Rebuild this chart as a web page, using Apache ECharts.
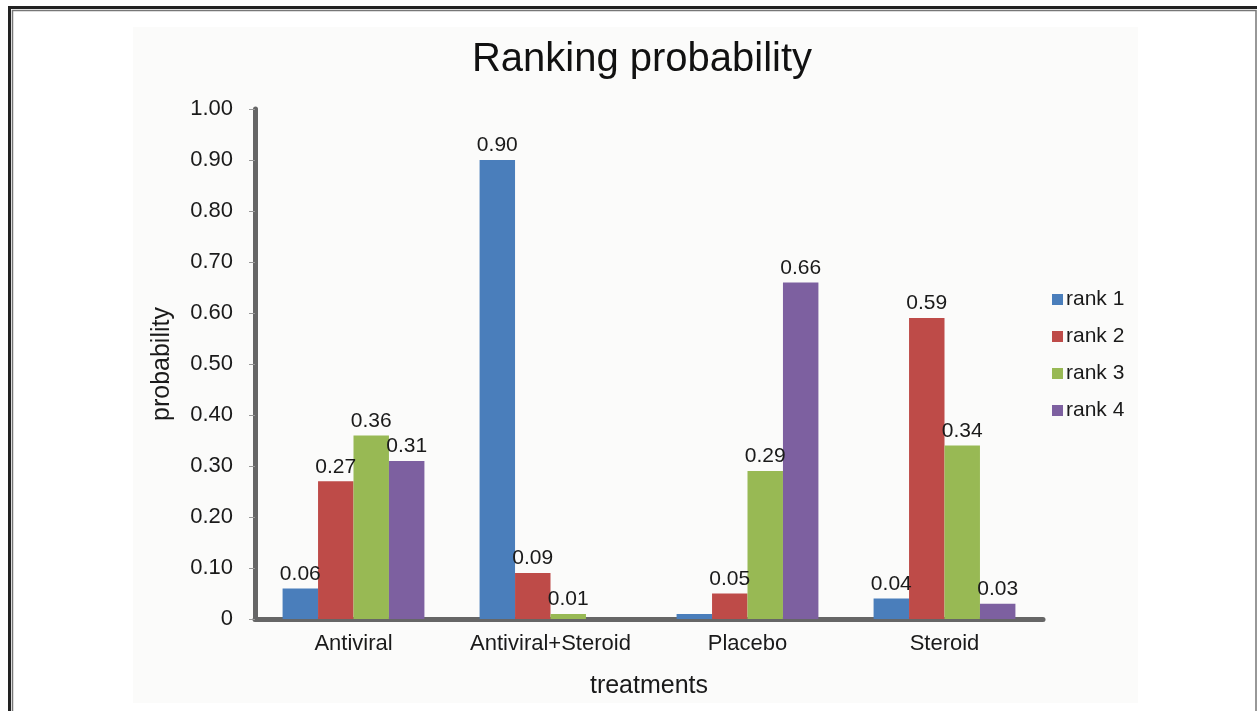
<!DOCTYPE html>
<html>
<head>
<meta charset="utf-8">
<script src="https://cdn.jsdelivr.net/npm/echarts@6/dist/echarts.min.js"></script>
<style>
html,body{margin:0;padding:0;background:#fff;}
#c{width:1257px;height:711px;}
</style>
</head>
<body>
<div id="c"></div>
<script>
const categories = ['Antiviral', 'Antiviral+Steroid', 'Placebo', 'Steroid'];
const seriesNames = ['rank 1', 'rank 2', 'rank 3', 'rank 4'];
const rank1 = [0.06, 0.90, 0.01, 0.04];
const rank2 = [0.27, 0.09, 0.05, 0.59];
const rank3 = [0.36, 0.01, 0.29, 0.34];
const rank4 = [0.31, 0, 0.66, 0.03];
// labels not drawn in the reference: [seriesIndex, categoryIndex]
const hiddenLabels = [[0, 2], [3, 1]];
const colors = ['#4a7ebb', '#be4b48', '#98b954', '#7d60a0'];

const allValues = [rank1, rank2, rank3, rank4];
const font = 'Liberation Sans, Arial, sans-serif';
const textColor = '#1a1a1a';

const series = allValues.map((vals, si) => ({
  name: seriesNames[si],
  type: 'bar',
  barGap: '0%',
  barCategoryGap: '28%',
  itemStyle: { color: colors[si] },
  label: {
    show: true, position: 'top', distance: 4,
    fontFamily: font, fontSize: 21, color: textColor,
    formatter: p => p.value.toFixed(2)
  },
  data: vals.map((v, ci) => {
    const hide = hiddenLabels.some(h => h[0] === si && h[1] === ci);
    return hide ? { value: v, label: { show: false } } : v;
  })
}));

const chart = echarts.init(document.getElementById('c'));
chart.setOption({
  backgroundColor: '#ffffff',
  animation: false,
  graphic: [
    { type: 'rect', z: -10, shape: { x: 133, y: 27, width: 1005, height: 676 }, style: { fill: '#fbfbfa' } },
    { type: 'rect', z: -5, shape: { x: 9.5, y: 7.5, width: 1260, height: 720 }, style: { fill: 'none', stroke: '#222', lineWidth: 3 } },
    { type: 'rect', z: -5, shape: { x: 12.5, y: 10.5, width: 1243.5, height: 720 }, style: { fill: 'none', stroke: '#777', lineWidth: 1.5 } }
  ],
  title: {
    text: 'Ranking probability',
    left: 642, top: 40, textAlign: 'center', padding: 0,
    textStyle: { fontFamily: font, fontSize: 40, fontWeight: 'normal', color: '#111' }
  },
  legend: {
    orient: 'vertical', left: 1047, top: 284, itemGap: 16,
    itemWidth: 11, itemHeight: 11, icon: 'rect',
    textStyle: { fontFamily: font, fontSize: 21, color: textColor, padding: [0, 0, 0, -2] },
    data: seriesNames
  },
  grid: { left: 255, right: 214, top: 109, bottom: 92, containLabel: false },
  xAxis: {
    type: 'category', data: categories,
    name: 'treatments', nameLocation: 'middle', nameGap: 55,
    nameTextStyle: { fontFamily: font, fontSize: 25, color: textColor },
    axisLine: { lineStyle: { color: '#666', width: 5 } },
    axisTick: { show: false },
    axisLabel: { interval: 0, fontFamily: font, fontSize: 22, color: textColor, margin: 14 }
  },
  yAxis: {
    type: 'value', min: 0, max: 1, interval: 0.1,
    name: 'probability', nameLocation: 'middle', nameGap: 80,
    nameTextStyle: { fontFamily: font, fontSize: 25, color: textColor },
    axisLine: { show: true, lineStyle: { color: '#666', width: 5 } },
    axisTick: { show: true, length: 6, lineStyle: { color: '#999', width: 1 } },
    splitLine: { show: false },
    axisLabel: {
      fontFamily: font, fontSize: 22, color: textColor, margin: 22,
      formatter: v => v === 0 ? '0' : v.toFixed(2)
    }
  },
  series: series
});
</script>
</body>
</html>
